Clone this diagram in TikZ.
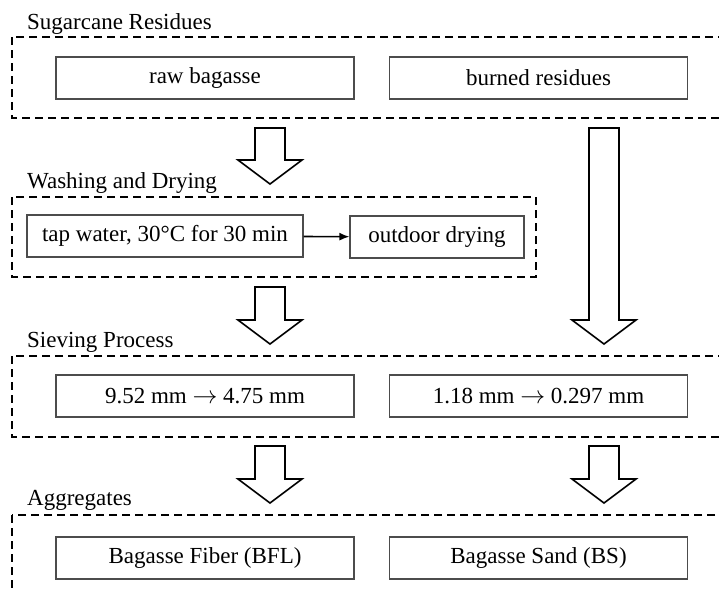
\documentclass[tikz,border=0pt]{standalone}
\usepackage{fontspec}
\setmainfont{Liberation Serif}
\usetikzlibrary{positioning, calc, arrows.meta}

\tikzset{
	stepbox/.style={draw=black!70, line width=1.1pt, minimum width=298pt, minimum height=42pt, inner sep=0pt, font=\fontsize{23}{27}\selectfont},
	groupbox/.style={draw, dash pattern=on 8pt off 5pt, line width=1.6pt},
	grouptitle/.style={anchor=base west, inner sep=0pt, font=\fontsize{23}{27}\selectfont},
	blockarrow/.style={draw, line width=1.6pt, fill=white, line join=miter},
}

\begin{document}
\begin{tikzpicture}[x=1pt, y=-1pt]
			\clip (0,0) rectangle (719,592);
			
			\node[grouptitle] (residuestitle) at (27, 29) {Sugarcane Residues};
			\draw[groupbox] (12, 37) rectangle (730, 118);
			\node[stepbox] (rawbagasse) at (205, 78) {raw bagasse};
			\node[stepbox] (burned) at (538.5, 78) {burned residues};
			
			\node[grouptitle] (washingtitle) at (27, 188) {Washing and Drying};
			\draw[groupbox] (12, 197) rectangle (536, 277);
			\node[stepbox, minimum width=276pt] (tapwater) at (165, 236) {tap water, 30°C for 30 min};
			\node[stepbox, minimum width=174pt] (outdoor) at (437, 237) {outdoor drying};
			\draw[-{Latex[length=10pt, width=8pt]}, line width=1.6pt] (tapwater) -- (outdoor);
			
			\node[grouptitle] (sievingtitle) at (27, 347) {Sieving Process};
			\draw[groupbox] (12, 356) rectangle (730, 437);
			\node[stepbox] (coarse) at (205, 396) {9.52 mm $\rightarrow$ 4.75 mm};
			\node[stepbox] (fine) at (538.5, 396) {1.18 mm $\rightarrow$ 0.297 mm};
			
			\node[grouptitle] (aggtitle) at (27, 505) {Aggregates};
			\draw[groupbox] (12, 515) rectangle (730, 610);
			\node[stepbox] (fiber) at (205, 558) {Bagasse Fiber (BFL)};
			\node[stepbox] (sand) at (538.5, 558) {Bagasse Sand (BS)};
			
			\coordinate (washin) at (270, 128);
			\coordinate (washtip) at (270, 184);
			\coordinate (sievein) at (270, 287);
			\coordinate (sievetip) at (270, 344);
			\coordinate (burnin) at (604, 128);
			\coordinate (burntip) at (604, 344);
			\coordinate (fiberin) at (270, 446);
			\coordinate (fibertip) at (270, 503);
			\coordinate (sandin) at (604, 446);
			\coordinate (sandtip) at (604, 503);
			
			\foreach \s/\e in {washin/washtip, sievein/sievetip, burnin/burntip, fiberin/fibertip, sandin/sandtip}
				\draw[blockarrow] ($(\s)+(-15,0)$) -- ($(\s)+(15,0)$) -- ($(\e)+(15,-24)$) -- ($(\e)+(32,-24)$) -- (\e)
					-- ($(\e)+(-32,-24)$) -- ($(\e)+(-15,-24)$) -- cycle;
\end{tikzpicture}
\end{document}
